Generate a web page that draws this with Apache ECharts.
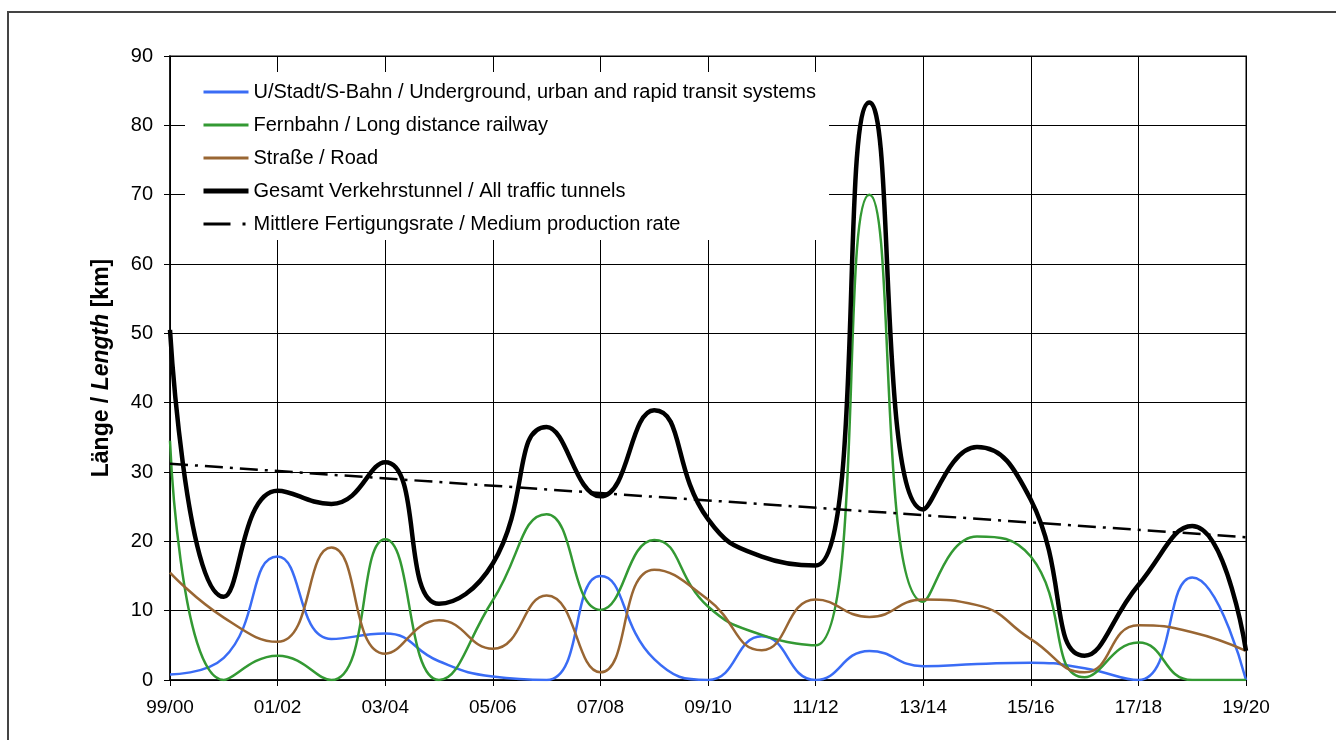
<!DOCTYPE html>
<html>
<head>
<meta charset="utf-8">
<script src="https://cdn.jsdelivr.net/npm/echarts@6/dist/echarts.min.js"></script>
<style>
html, body { margin: 0; padding: 0; background: #fff; }
#tunnelGraph { width: 1336px; height: 740px; }
</style>
</head>
<body>
<div id="tunnelGraph"></div>
<script>
var years = ['99/00', '00/01', '01/02', '02/03', '03/04', '04/05', '05/06', '06/07', '07/08', '08/09', '09/10',
    '10/11', '11/12', '12/13', '13/14', '14/15', '15/16', '16/17', '17/18', '18/19', '19/20'];
var urban = [0.8, 3.2, 17.8, 5.9, 6.7, 2.7, 0.5, 0, 15, 3, 0, 6.3, 0, 4.2, 2.0, 2.3, 2.5, 1.7, 0, 14.8, 0];
var longDistance = [34.5, 0, 3.5, 0, 20.3, 0, 11.5, 23.9, 10.1, 20.2, 10.6, 6.5, 5, 70, 11.3, 20.7, 17.8, 0.4, 5.4, 0, 0];
var road = [15.5, 9, 5.5, 19.1, 3.8, 8.6, 4.5, 12.2, 1.1, 15.9, 11.6, 4.3, 11.6, 9.1, 11.6, 10.8, 5.9, 1.1, 7.9, 6.9, 4.2];
var total = [50.5, 12, 27.3, 25.4, 31.4, 11, 16.8, 36.5, 26.5, 38.9, 23.2, 17.8, 16.5, 83.3, 24.6, 33.6, 26, 3.5, 13.7, 22.2, 4.2];
var rate = [['99/00', 31.2], ['19/20', 20.6]];
var seriesNames = [
    'U/Stadt/S-Bahn / Underground, urban and rapid transit systems',
    'Fernbahn / Long distance railway',
    'Straße / Road',
    'Gesamt Verkehrstunnel / All traffic tunnels',
    'Mittlere Fertigungsrate / Medium production rate'
];

var tunnelChart = echarts.init(document.getElementById("tunnelGraph"));
var font = '"Liberation Sans", Arial, sans-serif';

function curve(name, data, color, width) {
    return {
        name: name,
        type: 'line',
        data: data,
        smooth: 0.5,
        showSymbol: false,
        symbol: 'none',
        lineStyle: {color: color, width: width},
        itemStyle: {color: color}
    };
}

var tunnelOption = {
    animation: false,
    textStyle: {fontFamily: font},
    graphic: [
        {
            type: 'rect',
            shape: {x: 8, y: 12, width: 1340, height: 740},
            style: {fill: 'none', stroke: '#444', lineWidth: 2}
        }
    ],
    grid: {
        left: 170,
        top: 56,
        width: 1076,
        height: 624,
        show: true,
        borderColor: '#808080',
        borderWidth: 2
    },
    legend: {
        orient: 'vertical',
        left: 185,
        top: 72,
        padding: [10, 13, 6, 16],
        itemGap: 13,
        itemWidth: 45,
        itemHeight: 20,
        backgroundColor: '#fff',
        itemStyle: {opacity: 0},
        textStyle: {fontSize: 20, color: '#000', fontFamily: font},
        data: [
            {name: seriesNames[0], lineStyle: {width: 3}},
            {name: seriesNames[1], lineStyle: {width: 3}},
            {name: seriesNames[2], lineStyle: {width: 3}},
            {name: seriesNames[3], lineStyle: {width: 5}},
            {name: seriesNames[4], lineStyle: {width: 3, type: [27, 12, 3, 10]}}
        ]
    },
    xAxis: {
        type: 'category',
        data: years,
        boundaryGap: false,
        axisLine: {lineStyle: {color: '#000', width: 1.5}},
        axisTick: {interval: 1, length: 6, lineStyle: {color: '#000'}},
        axisLabel: {interval: 1, color: '#000', fontSize: 19, margin: 18},
        splitLine: {show: true, interval: 1, lineStyle: {color: '#000', width: 1}}
    },
    yAxis: {
        type: 'value',
        min: 0,
        max: 90,
        interval: 10,
        name: '{a|Länge / }{b|Length}{a| [km]}',
        nameLocation: 'middle',
        nameGap: 57,
        nameTextStyle: {
            rich: {
                a: {fontSize: 23, fontWeight: 'bold', color: '#000', fontFamily: font},
                b: {fontSize: 23, fontWeight: 'bold', fontStyle: 'italic', color: '#000', fontFamily: font}
            }
        },
        axisLine: {show: true, lineStyle: {color: '#000', width: 1.5}},
        axisTick: {show: true, length: 6, lineStyle: {color: '#000'}},
        axisLabel: {color: '#000', fontSize: 20, margin: 17},
        splitLine: {show: true, lineStyle: {color: '#000', width: 1}}
    },
    series: [
        curve(seriesNames[0], urban, '#3a6cf5', 2.5),
        curve(seriesNames[1], longDistance, '#339933', 2.5),
        curve(seriesNames[2], road, '#996633', 2.5),
        curve(seriesNames[3], total, '#000000', 4.5),
        {
            name: seriesNames[4],
            type: 'line',
            data: rate,
            showSymbol: false,
            symbol: 'none',
            lineStyle: {color: '#000', width: 2.5, type: [18, 7, 3, 7]},
            itemStyle: {color: '#000'}
        }
    ]
};

tunnelChart.setOption(tunnelOption, true);
</script>
</body>
</html>
